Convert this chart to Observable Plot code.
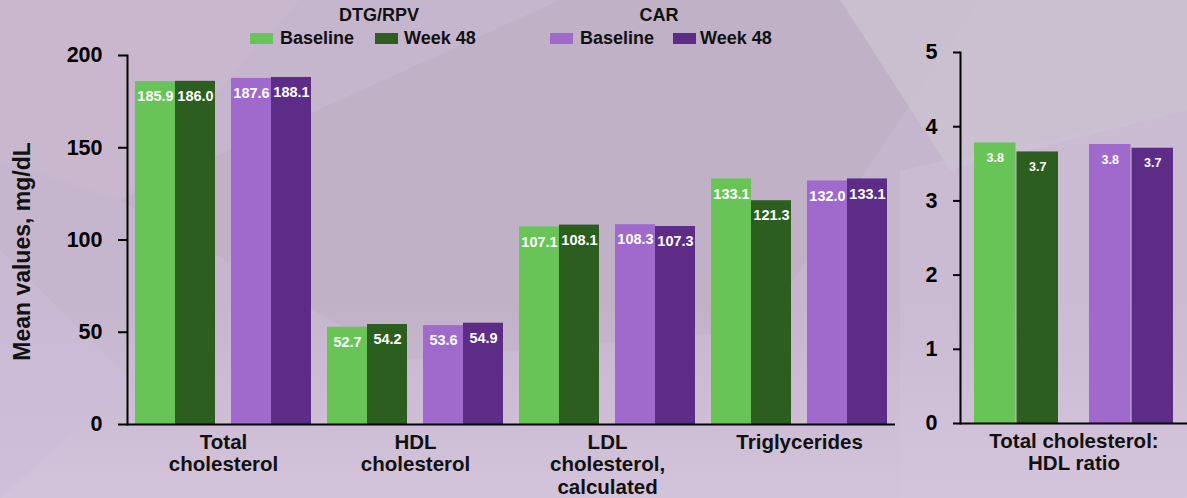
<!DOCTYPE html>
<html>
<head>
<meta charset="utf-8">
<script src="https://cdn.jsdelivr.net/npm/d3@7"></script>
<script src="https://cdn.jsdelivr.net/npm/@observablehq/plot@0.6"></script>
<style>
  html, body { margin: 0; padding: 0; }
  body { width: 1187px; height: 498px; overflow: hidden; font-family: "Liberation Sans", Arial, sans-serif; }
  #wrap { position: relative; width: 1187px; height: 498px; background: #c8b8d0; overflow: hidden; }
  #bg { position: absolute; left: 0; top: 0; }
  #left { position: absolute; left: 0; top: 0; }
  #right { position: absolute; left: 900px; top: 0; }
  .lg { position: absolute; font-weight: bold; font-size: 18px; line-height: 18px; color: #111; white-space: nowrap; }
  .sw { position: absolute; width: 23px; height: 11px; }
  #ylabel { position: absolute; left: -128px; top: 240px; width: 300px; height: 23px; line-height: 23px;
            text-align: center; font-weight: bold; font-size: 23px; color: #111; transform: rotate(-90deg); white-space: nowrap; }
</style>
</head>
<body>
<div id="wrap">
  <svg id="bg" width="1187" height="498">
    <defs>
      <linearGradient id="gb" x1="0" y1="0" x2="0" y2="1">
        <stop offset="0" stop-color="#d6c6de" stop-opacity="0"/>
        <stop offset="1" stop-color="#d6c6de" stop-opacity="0.8"/>
      </linearGradient>
    </defs>
    <rect x="0" y="0" width="1187" height="498" fill="#c6b6cd"/>
    <polygon points="0,0 300,0 120,200 0,160" fill="#ccb7cf" opacity="0.6"/>
    <polygon points="120,200 560,0 980,0 760,330 400,360" fill="#b7aac2" opacity="0.45"/>
    <polygon points="840,0 1187,0 1187,110 950,170" fill="#cdc4d2" opacity="0.7"/>
    <polygon points="900,170 1187,110 1187,498 900,498" fill="#cdbfd8" opacity="0.5"/>
    <rect x="0" y="300" width="1187" height="198" fill="url(#gb)"/>
    <polygon points="0,250 130,380 0,498" fill="#cbbcd9" opacity="0.5"/>
  </svg>
  <div id="left"></div>
  <div id="right"></div>
  <div id="legend"></div>
  <div id="ylabel">Mean values, mg/dL</div>
</div>
<script>
// ---------- data ----------
const categories = ["Total\ncholesterol", "HDL\ncholesterol", "LDL\ncholesterol,\ncalculated", "Triglycerides"];
const arms = ["DTG/RPV", "CAR"];
const timepoints = ["Baseline", "Week 48"];
const dtgBaseline = [185.9, 52.7, 107.1, 133.1];
const dtgWeek48   = [186.0, 54.2, 108.1, 121.3];
const carBaseline = [187.6, 53.6, 108.3, 132.0];
const carWeek48   = [188.1, 54.9, 107.3, 133.1];
const ratioCategory = "Total cholesterol:\nHDL ratio";
const ratioBaseline = [3.78, 3.76];   // DTG/RPV, CAR
const ratioWeek48   = [3.66, 3.71];   // DTG/RPV, CAR
const leftTicks = [0, 50, 100, 150, 200];
const rightTicks = [0, 1, 2, 3, 4, 5];

// ---------- styles ----------
const seriesKeys = ["DTG/RPV|Baseline", "DTG/RPV|Week 48", "CAR|Baseline", "CAR|Week 48"];
const seriesColors = ["#68c456", "#2c5e20", "#a06acd", "#5d2c87"];
const FONT = "'Liberation Sans', Arial, sans-serif";

// ---------- tables ----------
const seriesVals = {
  "DTG/RPV|Baseline": dtgBaseline, "DTG/RPV|Week 48": dtgWeek48,
  "CAR|Baseline": carBaseline, "CAR|Week 48": carWeek48
};
const leftRows = [];
categories.forEach((cat, i) => arms.forEach(arm => timepoints.forEach(time => {
  leftRows.push({cat, arm, time, key: cat + "|" + arm, s: arm + "|" + time, value: seriesVals[arm + "|" + time][i]});
})));
const rightRows = [];
arms.forEach((arm, j) => {
  rightRows.push({arm, time: "Baseline", key: arm, s: arm + "|Baseline", value: ratioBaseline[j]});
  rightRows.push({arm, time: "Week 48", key: arm, s: arm + "|Week 48", value: ratioWeek48[j]});
});

function panel({rows, keys, width, height, margin, pi, po, yDomain, ticks, tickSize, labelSize, extra}) {
  const inner = width - margin.left - margin.right;
  const step = inner / (keys.length - pi + 2 * po);
  const bw = step * (1 - pi);
  const base = rows.filter(d => d.time === "Baseline");
  const wk = rows.filter(d => d.time === "Week 48");
  return Plot.plot({
    width, height,
    marginLeft: margin.left, marginRight: margin.right, marginTop: margin.top, marginBottom: margin.bottom,
    style: {background: "transparent", fontFamily: FONT, overflow: "visible", maxWidth: "none"},
    x: {type: "band", domain: keys, paddingInner: pi, paddingOuter: po, axis: null},
    y: {domain: yDomain, axis: null},
    color: {domain: seriesKeys, range: seriesColors},
    marks: [
      Plot.barY(base, {x: "key", y: "value", fill: "s", insetRight: bw / 2}),
      Plot.barY(wk, {x: "key", y: "value", fill: "s", insetLeft: bw / 2}),
      Plot.text(base, {x: "key", y: "value", text: d => d.value.toFixed(1), dx: -bw / 4, dy: 15,
        fill: "white", fontSize: labelSize, fontWeight: "bold"}),
      Plot.text(wk, {x: "key", y: "value", text: d => d.value.toFixed(1), dx: bw / 4, dy: 15,
        fill: "white", fontSize: labelSize, fontWeight: "bold"}),
      Plot.ruleY([0], {stroke: "#000", strokeWidth: 2}),
      Plot.frame({anchor: "left", stroke: "#000", strokeWidth: 2}),
      Plot.axisY({ticks, tickSize, tickPadding: 16, fontSize: 21.5, fontWeight: "bold",
        tickFormat: d => String(d), label: null, strokeWidth: 2, color: "#000"}),
      ...extra(step)
    ]
  });
}

const leftKeys = categories.flatMap(c => arms.map(a => c + "|" + a));
const leftPlot = panel({
  rows: leftRows, keys: leftKeys, width: 900, height: 498,
  margin: {left: 127, right: 5, top: 55, bottom: 74},
  pi: 0.1675, po: 0.08, yDomain: [0, 200], ticks: leftTicks, tickSize: 9, labelSize: 14.5,
  extra: step => [
    Plot.text(categories, {x: c => c + "|" + arms[0], dx: step / 2, frameAnchor: "bottom", lineAnchor: "top",
      dy: 8, text: d => d, fontSize: 20.5, fontWeight: "bold", lineHeight: 1.1, fill: "#111"})
  ]
});
document.getElementById("left").appendChild(leftPlot);

const rightPlot = panel({
  rows: rightRows, keys: arms, width: 287, height: 498,
  margin: {left: 60, right: 0, top: 52, bottom: 75},
  pi: 0.267, po: 0.112, yDomain: [0, 5], ticks: rightTicks, tickSize: 7, labelSize: 12.5,
  extra: () => [
    Plot.text([ratioCategory], {frameAnchor: "bottom", lineAnchor: "top", dy: 8, text: d => d,
      fontSize: 20.5, fontWeight: "bold", lineHeight: 1.1, fill: "#111"})
  ]
});
document.getElementById("right").appendChild(rightPlot);

// ---------- legend ----------
const legend = document.getElementById("legend");
const legendGroups = [
  {title: arms[0], cx: 379, sw: [250, 375], tx: [280, 404], keys: [seriesKeys[0], seriesKeys[1]]},
  {title: arms[1], cx: 659, sw: [550, 673], tx: [580, 700], keys: [seriesKeys[2], seriesKeys[3]]}
];
legendGroups.forEach(g => {
  const t = document.createElement("div");
  t.className = "lg";
  t.style.left = (g.cx - 100) + "px"; t.style.width = "200px"; t.style.textAlign = "center"; t.style.top = "6px";
  t.textContent = g.title;
  legend.appendChild(t);
  timepoints.forEach((tp, k) => {
    const s = document.createElement("div");
    s.className = "sw";
    s.style.left = g.sw[k] + "px"; s.style.top = "33px";
    s.style.background = seriesColors[seriesKeys.indexOf(g.keys[k])];
    legend.appendChild(s);
    const l = document.createElement("div");
    l.className = "lg";
    l.style.left = g.tx[k] + "px"; l.style.top = "29px";
    l.textContent = tp;
    legend.appendChild(l);
  });
});
</script>
</body>
</html>
